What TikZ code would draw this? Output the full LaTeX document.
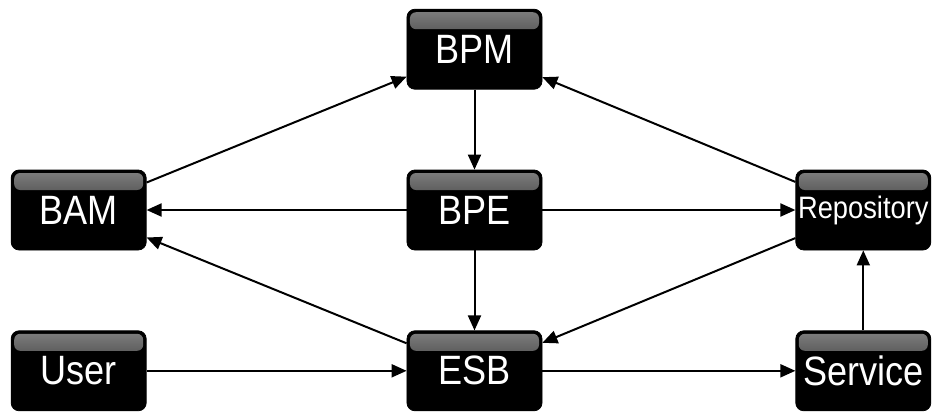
\documentclass[tikz,border=0pt]{standalone}
\usepackage{fontspec}
\setmainfont{Liberation Sans}
\newfontfamily\boxfont[FakeStretch=0.88]{Liberation Sans}
\usetikzlibrary{positioning}
\usetikzlibrary{arrows.meta}

\tikzset{
	comp/.style={draw=black, fill=black, line width=0.8pt, rounded corners=8pt,
		minimum width=135pt, minimum height=80pt, inner sep=0pt, text=white,
		font=\boxfont\fontsize{41}{41}\selectfont,
		path picture={\shade[top color=black!50, bottom color=black, rounded corners=6pt]
			([xshift=3pt,yshift=-3pt]path picture bounding box.north west) rectangle
			([xshift=-3pt,yshift=-20pt]path picture bounding box.north east);}},
	link/.style={->, line width=2pt}
}

\begin{document}
\begin{tikzpicture}[>={Triangle[length=15pt,width=13pt]}, node distance=80pt and 260pt]
		\useasboundingbox (-474.5pt,-203pt) rectangle (459.5pt,210pt);

		\node(BPE)[comp]{BPE};
		\node(BPM)[comp, above=of BPE]{BPM};
		\node(ESB)[comp, below=of BPE]{ESB};
		\node(BAM)[comp, left=of BPE]{BAM};
		\node(User)[comp, left=of ESB]{User};
		\node(Repo)[comp, right=253pt of BPE, font=\boxfont\fontsize{31}{31}\selectfont]{Repository};
		\node(Service)[comp, right=253pt of ESB]{Service};

		\draw[link] (BAM) -- (BPM);
		\draw[link] (Repo) -- (BPM);
		\draw[link] (BPM) -- (BPE);
		\draw[link] (BPE) -- (BAM);
		\draw[link] (BPE) -- (Repo);
		\draw[link] (BPE) -- (ESB);
		\draw[link] (ESB) -- (BAM);
		\draw[link] (Repo) -- (ESB);
		\draw[link] (User) -- (ESB);
		\draw[link] (ESB) -- (Service);
		\draw[link] (Service) -- (Repo);
	\end{tikzpicture}
\end{document}
